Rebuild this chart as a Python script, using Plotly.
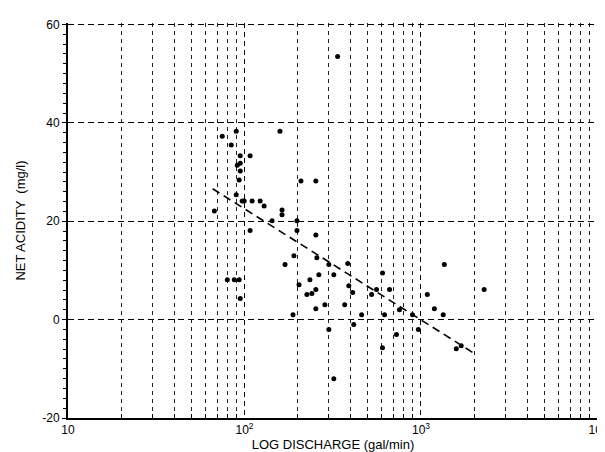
import plotly.graph_objects as go

# Discharge (gal/min) and net acidity (mg/l)
discharge = [
    89.8, 74.8, 84.1, 94.6, 107.6, 91.0, 94.6, 94.6, 93.3, 89.8,
    97.0, 99.6, 110.5, 122.7, 129.2, 67.5, 158.9, 208.9, 253.6, 163.2,
    163.2, 143.3, 198.3, 198.3, 253.6, 190.6, 169.7, 300.6, 384.6, 1356,
    257.0, 320.6, 234.8, 263.8, 203.7, 389.9, 605.4, 663.7, 2280, 225.7,
    240.9, 253.6, 525, 560, 1086, 253.6, 285.3, 369.8, 188.3, 461,
    622, 1191, 1337, 755, 895, 300.6, 415.9, 966, 726, 605,
    1585, 1690, 320.6, 79.9, 87.5, 93.3, 94.6, 337, 107.6, 410,
]
net_acidity = [
    38.3, 37.3, 35.5, 33.3, 33.3, 31.4, 31.8, 30.2, 28.4, 25.4,
    24.1, 24.1, 24.1, 24.1, 23.1, 22.1, 38.3, 28.2, 28.2, 22.3,
    21.3, 20.1, 20.1, 18.1, 17.2, 13.0, 11.2, 11.2, 11.4, 11.2,
    12.6, 9.1, 8.1, 9.1, 7.1, 6.9, 9.5, 6.1, 6.1, 5.1,
    5.3, 6.1, 5.1, 6.1, 5.1, 2.2, 3.0, 3.0, 1.0, 1.0,
    1.0, 2.2, 1.0, 2.0, 1.0, -2.0, -1.0, -2.0, -3.0, -5.7,
    -5.9, -5.3, -12.0, 8.1, 8.1, 8.1, 4.3, 53.5, 18.1, 5.5,
]

# Regression line end points
fit_discharge = [66, 2050]
fit_acidity = [26.6, -7.1]

# Axis ticks
x_major_vals = [10, 100, 1000, 10000]
x_major_text = ["10", "10<sup>2</sup>", "10<sup>3</sup>", "10<sup>4</sup>"]
x_minor_vals = [m * d for d in (10, 100, 1000) for m in range(2, 10)]
y_tick_vals = [-20, 0, 20, 40, 60]
y_tick_text = ["-20", "0", "20", "40", "60"]

fig = go.Figure()
fig.add_trace(go.Scatter(
    x=discharge, y=net_acidity, mode="markers",
    marker=dict(color="black", size=5),
    showlegend=False,
))
fig.add_trace(go.Scatter(
    x=fit_discharge, y=fit_acidity, mode="lines",
    line=dict(color="black", width=1.6, dash="8px,5px"),
    showlegend=False,
))

font_family = "Liberation Sans, Arial, sans-serif"

fig.update_layout(
    width=605, height=452,
    margin=dict(l=60, r=15, t=15, b=42, autoexpand=False),
    paper_bgcolor="white", plot_bgcolor="white",
    font=dict(family=font_family, color="black", size=12),
    xaxis=dict(
        type="log", range=[1, 4.003],
        tickmode="array", tickvals=x_major_vals, ticktext=x_major_text,
        showgrid=True, gridcolor="black", gridwidth=1, griddash="5px,4px",
        showline=True, linecolor="black", linewidth=2,
        ticks="", tickfont=dict(size=12), automargin=False,
        ticklabeloverflow="allow",
        minor=dict(tickmode="array", tickvals=x_minor_vals, showgrid=True,
                   gridcolor="#222", gridwidth=1, griddash="4px,4px",
                   ticks="inside", ticklen=4, tickcolor="black"),
        title=dict(text="LOG DISCHARGE (gal/min)", font=dict(size=13), standoff=2),
        zeroline=False,
    ),
    yaxis=dict(
        range=[-20, 60.3],
        tickmode="array", tickvals=y_tick_vals, ticktext=y_tick_text,
        showgrid=True, gridcolor="black", gridwidth=1, griddash="6px,4px",
        showline=True, linecolor="black", linewidth=2,
        ticks="outside", ticklen=4, tickcolor="black",
        minor=dict(dtick=2, ticks="outside", ticklen=3, tickcolor="black", showgrid=False),
        tickfont=dict(size=12), automargin=False,
        title=dict(text="NET ACIDITY  (mg/l)", font=dict(size=13), standoff=14),
        zeroline=False,
    ),
)

fig.write_html("out.html")
